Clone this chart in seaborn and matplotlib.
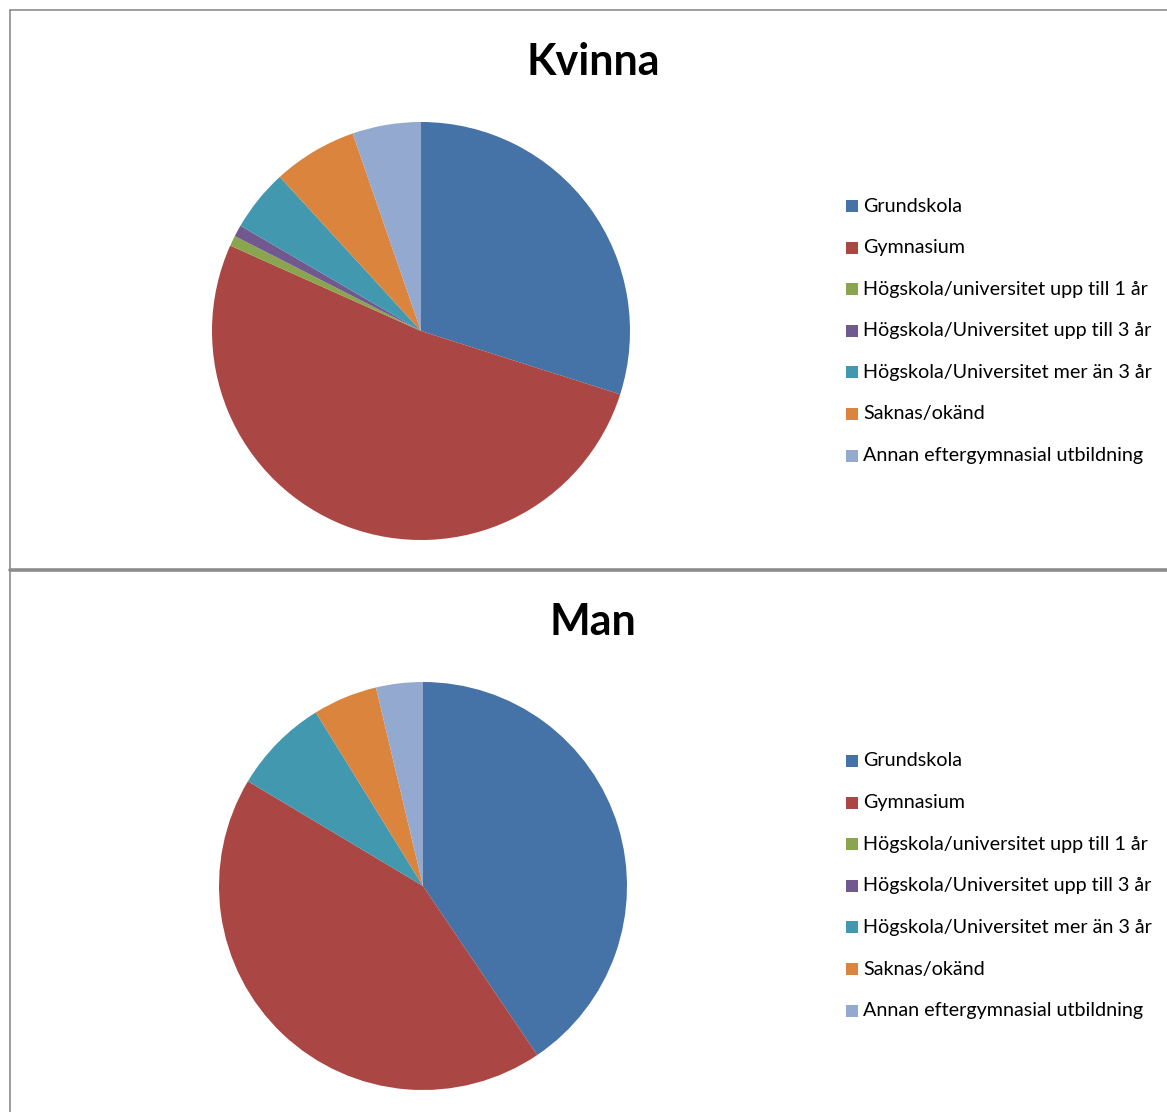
import matplotlib
matplotlib.use("Agg")
import matplotlib.pyplot as plt
import seaborn as sns
from matplotlib.lines import Line2D
from matplotlib.patches import Rectangle

sns.set_theme(style="white")
plt.rcParams['font.family'] = ['Lato', 'DejaVu Sans']

categories = ["Grundskola", "Gymnasium", "Högskola/universitet upp till 1 år",
              "Högskola/Universitet upp till 3 år", "Högskola/Universitet mer än 3 år",
              "Saknas/okänd", "Annan eftergymnasial utbildning"]
kvinna = [29.9, 51.8, 0.8, 0.9, 4.8, 6.5, 5.3]
man = [40.5, 43.0, 0.0, 0.0, 7.6, 5.1, 3.7]
titles = ["Kvinna", "Man"]
colors = sns.color_palette(["#4572A7", "#AA4643", "#89A54E", "#71588F",
                            "#4198AF", "#DB843D", "#93A9CF"])

W, H = 1167, 1112
fig = plt.figure(figsize=(W / 100, H / 100), dpi=100)

def fx(px):
    return px / W

def fy(py):
    return 1 - py / H

# panel borders
gray = "#8c8c8c"
fig.add_artist(Line2D([fx(10), 1], [fy(10), fy(10)], color=gray, lw=1.2))
fig.add_artist(Line2D([fx(10), fx(10)], [fy(10), 0], color=gray, lw=1.2))
fig.add_artist(Line2D([fx(10), 1], [fy(569.5), fy(569.5)], color=gray, lw=2.6))

panels = [
    dict(data=kvinna, title=titles[0], cx=421, cy=331, r=209, ty=62, ly=206),
    dict(data=man, title=titles[1], cx=423, cy=886, r=204, ty=622, ly=761),
]

for p in panels:
    cx, cy, r = p["cx"], p["cy"], p["r"]
    ax = fig.add_axes([fx(cx - r), fy(cy + r), 2 * r / W, 2 * r / H])
    ax.pie(p["data"], colors=colors, startangle=90, counterclock=False,
           radius=1, wedgeprops=dict(linewidth=0))
    ax.set_xlim(-1, 1)
    ax.set_ylim(-1, 1)
    ax.set_aspect("equal")
    ax.axis("off")
    fig.text(fx(593), fy(p["ty"]), p["title"], ha="center", va="center",
             fontsize=31, fontweight="bold", color="black")
    # legend
    for i, (cat, col) in enumerate(zip(categories, colors)):
        y = p["ly"] + i * 41.6
        fig.add_artist(Rectangle((fx(846), fy(y + 6)), 12 / W, 12 / H,
                                 facecolor=col, edgecolor="none",
                                 transform=fig.transFigure))
        fig.text(fx(863), fy(y), cat, ha="left", va="center",
                 fontsize=14.2, color="black")

fig.savefig("out.png", dpi=100, facecolor="white")
